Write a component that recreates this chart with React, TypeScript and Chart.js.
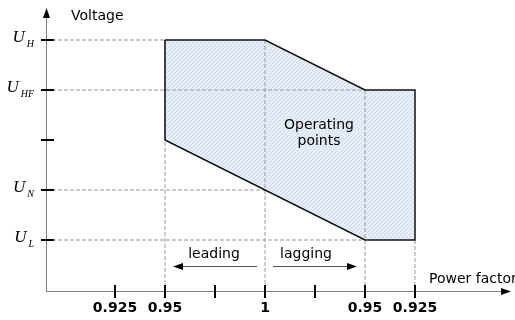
import React, { useEffect, useRef } from "react";
import { Chart, registerables } from "chart.js";

Chart.register(...registerables);

// Power-factor axis: tick positions and their labels
const pfTickPositions = [1, 2, 3, 4, 5, 6, 7];
const pfTickLabels = ["0.925", "0.95", "", "1", "", "0.95", "0.925"];

// Voltage axis: levels and their subscripts (U_x)
const voltageLevels = [5, 4, 3, 2, 1];
const voltageSubscripts = ["H", "HF", "", "N", "L"];

// Operating region polygon (pf position, voltage level)
const regionPf = [2, 4, 6, 7, 7, 6, 2, 2];
const regionV = [5, 5, 4, 4, 1, 1, 3, 5];

// Horizontal dashed guides: voltage level and pf position where they end
const hGuideV = [5, 4, 2, 1];
const hGuideEnd = [2, 6, 4, 6];
// Vertical dashed guides: pf position and top voltage level
const vGuidePf = [2, 4, 6, 7];
const vGuideTop = [5, 5, 4, 1];

const X_MIN = -0.38;
const X_MAX = 8.9;
const Y_MIN = -0.02;
const Y_MAX = 5.6;

function makePattern(): CanvasPattern | string {
  const c = document.createElement("canvas");
  c.width = 4;
  c.height = 4;
  const g = c.getContext("2d");
  if (!g) return "#e3eaf6";
  g.fillStyle = "#e8eef8";
  g.fillRect(0, 0, 4, 4);
  g.strokeStyle = "#d0dbef";
  g.lineWidth = 1;
  g.beginPath();
  g.moveTo(0, 4);
  g.lineTo(4, 0);
  g.moveTo(-1, 1);
  g.lineTo(1, -1);
  g.moveTo(3, 5);
  g.lineTo(5, 3);
  g.stroke();
  const p = g.createPattern(c, "repeat");
  return p || "#e3eaf6";
}

const overlay = {
  id: "overlay",
  afterDraw(chart: any) {
    const ctx = chart.ctx as CanvasRenderingContext2D;
    const xs = chart.scales.x;
    const ys = chart.scales.y;
    const x0 = xs.getPixelForValue(X_MIN);
    const y0 = ys.getPixelForValue(Y_MIN);
    const xEnd = xs.getPixelForValue(X_MAX);
    const yTop = ys.getPixelForValue(Y_MAX);
    ctx.save();

    // axes lines
    ctx.strokeStyle = "#808080";
    ctx.lineWidth = 1;
    ctx.beginPath();
    ctx.moveTo(x0 + 0.5, y0);
    ctx.lineTo(x0 + 0.5, yTop + 6);
    ctx.moveTo(x0, y0 + 0.5);
    ctx.lineTo(xEnd - 6, y0 + 0.5);
    ctx.stroke();

    // arrow heads
    ctx.fillStyle = "#000";
    ctx.beginPath();
    ctx.moveTo(x0 + 0.5, yTop - 2);
    ctx.lineTo(x0 + 4, yTop + 8);
    ctx.lineTo(x0 - 3, yTop + 8);
    ctx.closePath();
    ctx.fill();
    ctx.beginPath();
    ctx.moveTo(xEnd + 1, y0 + 0.5);
    ctx.lineTo(xEnd - 9, y0 - 3);
    ctx.lineTo(xEnd - 9, y0 + 4);
    ctx.closePath();
    ctx.fill();

    // x ticks + labels
    ctx.strokeStyle = "#000";
    ctx.lineWidth = 2;
    ctx.font = 'bold 14px "DejaVu Sans"';
    ctx.textAlign = "center";
    ctx.textBaseline = "alphabetic";
    pfTickPositions.forEach((v, i) => {
      const px = Math.round(xs.getPixelForValue(v));
      ctx.beginPath();
      ctx.moveTo(px, y0 - 6);
      ctx.lineTo(px, y0 + 7);
      ctx.stroke();
      if (pfTickLabels[i]) ctx.fillText(pfTickLabels[i], px, y0 + 21);
    });

    // y ticks + labels
    voltageLevels.forEach((v, i) => {
      const py = Math.round(ys.getPixelForValue(v));
      ctx.beginPath();
      ctx.moveTo(x0 - 5, py);
      ctx.lineTo(x0 + 8, py);
      ctx.stroke();
      const sub = voltageSubscripts[i];
      if (!sub) return;
      ctx.textAlign = "left";
      ctx.font = 'italic 17px "Liberation Serif"';
      const wU = ctx.measureText("U").width;
      ctx.font = 'italic 10px "Liberation Serif"';
      const wS = ctx.measureText(sub).width;
      const right = 34;
      const startX = right - wS - 2 - wU;
      ctx.font = 'italic 17px "Liberation Serif"';
      ctx.fillText("U", startX, py + 2);
      ctx.font = 'italic 10px "Liberation Serif"';
      ctx.fillText(sub, startX + wU + 2, py + 7);
    });

    // axis titles
    ctx.font = '14px "DejaVu Sans"';
    ctx.textAlign = "left";
    ctx.fillStyle = "#000";
    ctx.fillText("Voltage", x0 + 25, 20);
    ctx.fillText("Power factor", 429, y0 - 8);

    // leading / lagging
    const ay = ys.getPixelForValue(0.48);
    ctx.textAlign = "center";
    ctx.fillText("leading", xs.getPixelForValue(2.98), ay - 8);
    ctx.fillText("lagging", xs.getPixelForValue(4.82), ay - 8);
    const arrow = (from: number, to: number) => {
      const a = xs.getPixelForValue(from);
      const b = xs.getPixelForValue(to);
      const dir = Math.sign(b - a);
      ctx.strokeStyle = "#555";
      ctx.lineWidth = 1;
      ctx.beginPath();
      ctx.moveTo(a, Math.round(ay) + 0.5);
      ctx.lineTo(b - dir * 6, Math.round(ay) + 0.5);
      ctx.stroke();
      ctx.fillStyle = "#000";
      ctx.beginPath();
      ctx.moveTo(b, Math.round(ay) + 0.5);
      ctx.lineTo(b - dir * 10, Math.round(ay) - 3);
      ctx.lineTo(b - dir * 10, Math.round(ay) + 4);
      ctx.closePath();
      ctx.fill();
    };
    arrow(3.84, 2.16);
    arrow(4.16, 5.84);

    // Operating points label
    ctx.font = '14px "DejaVu Sans"';
    ctx.fillStyle = "#000";
    const cx = xs.getPixelForValue(5.08);
    ctx.fillText("Operating", cx, ys.getPixelForValue(3.22));
    ctx.fillText("points", cx, ys.getPixelForValue(2.9));

    ctx.restore();
  },
};

export default function App() {
  const ref = useRef<HTMLCanvasElement | null>(null);
  useEffect(() => {
    if (!ref.current) return;
    const regionPts = regionPf.map((x, i) => ({ x, y: regionV[i] }));
    const guides: any[] = [];
    hGuideV.forEach((v, i) => {
      guides.push([
        { x: X_MIN, y: v },
        { x: hGuideEnd[i], y: v },
      ]);
    });
    vGuidePf.forEach((p, i) => {
      guides.push([
        { x: p, y: vGuideTop[i] },
        { x: p, y: Y_MIN },
      ]);
    });
    const datasets: any[] = [
      {
        data: regionPts,
        showLine: true,
        fill: false,
        borderColor: "#111",
        borderWidth: 1.5,
        borderJoinStyle: "miter",
        pointRadius: 0,
        tension: 0,
      },
      ...guides.map((g) => ({
        data: g,
        showLine: true,
        fill: false,
        borderColor: "#999",
        borderWidth: 1,
        borderDash: [4, 2],
        pointRadius: 0,
      })),
      {
        data: regionPts,
        showLine: true,
        fill: "shape",
        backgroundColor: makePattern(),
        borderWidth: 0,
        borderColor: "rgba(0,0,0,0)",
        pointRadius: 0,
        tension: 0,
      },
    ];
    const chart = new Chart(ref.current, {
      type: "scatter",
      data: { datasets },
      options: {
        responsive: false,
        animation: false,
        events: [],
        layout: { padding: { left: 46, right: 5, top: 10, bottom: 29 } },
        plugins: { legend: { display: false }, tooltip: { enabled: false } },
        scales: {
          x: { type: "linear", min: X_MIN, max: X_MAX, display: false },
          y: { type: "linear", min: Y_MIN, max: Y_MAX, display: false },
        },
      },
      plugins: [overlay],
    });
    return () => chart.destroy();
  }, []);
  return (
    <div style={{ position: "absolute", left: 0, top: 0, width: 515, height: 320, background: "#fff" }}>
      <canvas ref={ref} width={515} height={320} style={{ width: 515, height: 320 }} />
    </div>
  );
}
